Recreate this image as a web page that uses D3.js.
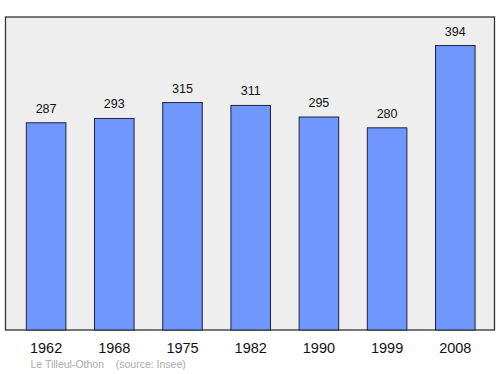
<!DOCTYPE html>
<html><head><meta charset="utf-8">
<script src="https://cdn.jsdelivr.net/npm/d3@7"></script>
<style>body{margin:0;background:#fff}</style>
</head><body>
<svg id="c" width="500" height="374"></svg>
<script>
const years = ["1962","1968","1975","1982","1990","1999","2008"];
const population = [287,293,315,311,295,280,394];
const caption = "Le Tilleul-Othon    (source: Insee)";

const svg = d3.select("#c");
const panel = {x0:5.5, x1:494.5, y0:17, y1:330};
const x = d3.scaleBand().domain(years).range([12.0, 489.4]).paddingInner(0.42).paddingOuter(0.21);
const y = d3.scaleLinear().domain([0, 433.5]).range([panel.y1, panel.y0]);

svg.append("rect").attr("x",panel.x0).attr("y",panel.y0)
  .attr("width",panel.x1-panel.x0).attr("height",panel.y1-panel.y0)
  .attr("fill","#eeeeee").attr("stroke","#333").attr("stroke-width",1.3);

svg.selectAll("rect.bar").data(population).join("rect").attr("class","bar")
  .attr("x",(d,i)=>x(years[i])).attr("width",x.bandwidth())
  .attr("y",d=>y(d)).attr("height",d=>y(0)-y(d))
  .attr("fill","#7097ff").attr("stroke","#223","stroke-width",1);

svg.selectAll("text.val").data(population).join("text").attr("class","val")
  .attr("x",(d,i)=>x(years[i])+x.bandwidth()/2).attr("y",d=>y(d)-10)
  .attr("text-anchor","middle").attr("font-family","Liberation Sans, Arial, sans-serif")
  .attr("font-size",12.5).attr("fill","#111").text(d=>d);

const xAxis = d3.axisBottom(x).tickSize(0).tickPadding(0);
const g = svg.append("g").attr("transform",`translate(0,${panel.y1})`).call(xAxis);
g.select(".domain").remove();
g.selectAll("text").attr("font-family","Liberation Sans, Arial, sans-serif")
  .attr("font-size",14.5).attr("fill","#111").attr("dy",0).attr("y",22.5);

svg.append("text").attr("x",30.5).attr("y",368).attr("font-family","Liberation Sans, Arial, sans-serif")
  .attr("font-size",10.5).attr("fill","#aaa").attr("xml:space","preserve").style("white-space","pre").text(caption);
</script>
</body></html>
